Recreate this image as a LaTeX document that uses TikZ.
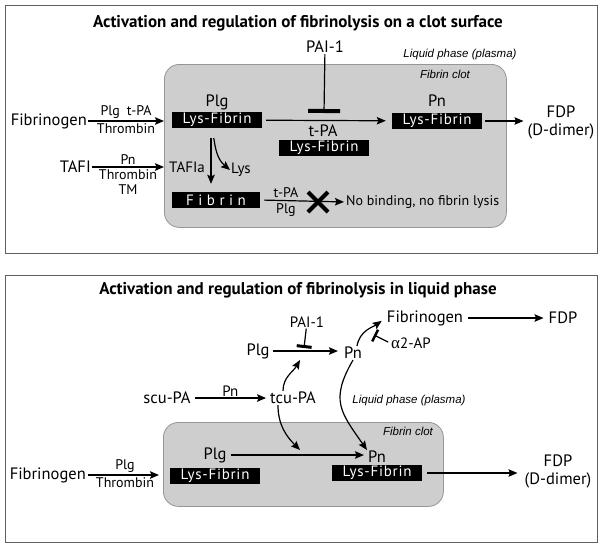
\documentclass[tikz,border=0pt]{standalone}
\usepackage{fontspec}
\setmainfont{PT Sans}
\newfontfamily\notefont{Liberation Sans}
\newfontfamily\lysfont[LetterSpace=5]{PT Sans}
\newfontfamily\fibfont[LetterSpace=30]{PT Sans}
\newfontfamily\grkfont{Liberation Serif}
\usepackage{xcolor}
\usetikzlibrary{arrows.meta, positioning, shapes.misc}

\definecolor{clotgray}{RGB}{206,206,206}
\definecolor{clotedge}{RGB}{150,150,150}
\definecolor{framegray}{RGB}{95,95,95}

\tikzset{
	lbl/.style={font=\fontsize{16.5}{18}\selectfont, inner sep=1pt},
	mid/.style={font=\fontsize{15}{16}\selectfont, inner sep=1pt},
	sml/.style={font=\fontsize{14}{15}\selectfont, inner sep=2pt},
	note/.style={font=\notefont\itshape\fontsize{11.5}{13}\selectfont, inner sep=0pt},
	heading/.style={font=\bfseries\fontsize{17}{19}\selectfont},
	lysbox/.style={fill=black, text=white, font=\lysfont\fontsize{15}{15}\selectfont, minimum width=90pt, minimum height=16pt, inner sep=0pt},
	fibbox/.style={lysbox, font=\fibfont\fontsize{15}{15}\selectfont, minimum width=88pt, minimum height=16pt},
	clot/.style={draw=clotedge, fill=clotgray, rounded corners=15pt, line width=0.8pt, anchor=north west},
	panel/.style={draw=framegray, line width=1pt, anchor=north west},
	act/.style={-{Stealth[length=9pt,width=7.5pt,inset=1.5pt]}, line width=1.2pt},
	inh/.style={-{Bar[width=32pt,line width=4pt]}, line width=1.2pt},
	inhsmall/.style={-{Bar[width=13pt,line width=2.5pt]}, line width=1.2pt}
}

\begin{document}
\begin{tikzpicture}[x=1pt, y=1pt]
	\useasboundingbox (0,0) rectangle (604,-547);
	\node[panel, minimum width=592pt, minimum height=248pt] (frame1) at (5,-5) {};
	\node[panel, minimum width=592pt, minimum height=267pt] (frame2) at (5,-275) {};

	\node[heading] (title1) at (298,-23) {Activation and regulation of fibrinolysis on a clot surface};
	\node[clot, minimum width=342pt, minimum height=163pt] (clot1) at (164,-64) {};
	\node[lbl] (pai1) at (325,-47) {PAI-1};
	\node[note] (liq1) at (460,-55) {Liquid phase (plasma)};
	\node[note] (fc1) at (445,-74) {Fibrin clot};
	\node[lbl] (plg1) at (217,-102) {Plg};
	\node[lysbox] (lf1) at (217,-120) {Lys-Fibrin};
	\node[lbl] (pn1) at (437,-101) {Pn};
	\node[lysbox] (lf2) at (437,-121) {Lys-Fibrin};
	\node[lbl] (tpa1) at (323,-131) {t-PA};
	\node[lysbox] (lf3) at (324,-148) {Lys-Fibrin};
	\node[lbl, align=center] (fdp1) at (561,-122) {FDP\\(D-dimer)};
	\node[lbl, anchor=east] (fgn1) at (88,-121) {Fibrinogen};
	\node[lbl, anchor=east] (tafi) at (92,-167) {TAFI};
	\node[mid] (tafia) at (187,-167) {TAFIa};
	\node[mid] (lys) at (241,-170) {Lys};
	\node[fibbox] (fib) at (216,-200) {Fibrin};
	\node[sml, anchor=west, inner sep=0pt] (nobind) at (346,-202) {No binding, no fibrin lysis};
	\node[draw, cross out, line width=4pt, minimum size=16pt, inner sep=0pt] (stop) at (318,-202) {};
	\coordinate (blk1) at (324,-113);

	\draw[act] (fgn1.east) -- (fgn1.east -| clot1.west)
		node[midway, above, sml] {Plg\enspace t-PA}
		node[midway, below, sml] {Thrombin};
	\draw[act] (tafi.east) -- (tafi.east -| clot1.west)
		node[midway, above, sml] {Pn}
		node[midway, below, sml, align=center] {Thrombin\\TM};
	\draw[act, shorten <=4pt, shorten >=6pt] (lf1) -- (lf2);
	\draw[inh] (pai1) -- (blk1);
	\draw[act, shorten <=3pt, shorten >=3pt] (lf2.east) -- (lf2.east -| fdp1.west);
	\draw[act, shorten <=10pt, shorten >=8pt] ([xshift=-6pt]lf1.south) -- ([xshift=-6pt]lf1.south |- fib.north);
	\draw[act, shorten <=10pt] ([xshift=-5pt]lf1.south) to[out=-80, in=140] (lys.west);
	\draw[act, shorten <=4pt, shorten >=2pt] (fib.east) -- (nobind.west)
		node[pos=0.3, above, sml] {t-PA}
		node[pos=0.3, below, sml] {Plg};

	\node[heading] (title2) at (298,-290) {Activation and regulation of fibrinolysis in liquid phase};
	\node[mid] (pai2) at (307,-322) {PAI-1};
	\node[lbl] (plg2) at (258,-351) {Plg};
	\node[lbl] (pn2) at (353,-353) {Pn};
	\node[lbl] (fgn2) at (425,-318) {Fibrinogen};
	\node[lbl] (fdp2) at (563,-318) {FDP};
	\node[mid, anchor=west] (a2ap) at (390,-343) {{\grkfont\fontsize{17}{17}\selectfont α}2-AP};
	\node[lbl] (scupa) at (167,-398) {scu-PA};
	\node[lbl] (tcupa) at (293,-398) {tcu-PA};
	\node[note] (liq2) at (409,-401) {Liquid phase (plasma)};
	\node[clot, minimum width=280pt, minimum height=84pt] (clot2) at (163,-422) {};
	\node[note] (fc2) at (408,-431) {Fibrin clot};
	\node[lbl] (plg3) at (215,-455) {Plg};
	\node[lysbox] (lf4) at (215,-476) {Lys-Fibrin};
	\node[lbl] (pn3) at (377,-457) {Pn};
	\node[lysbox] (lf5) at (377,-473) {Lys-Fibrin};
	\node[lbl, anchor=east] (fgn3) at (87,-475) {Fibrinogen};
	\node[lbl, align=center] (fdp3) at (558,-471) {FDP\\(D-dimer)};
	\coordinate (blk2) at (304,-348);
	\coordinate (blk3) at (374,-335);
	\coordinate (hit1) at (300,-360);
	\coordinate (hit2) at (300,-450);

	\draw[act, shorten <=2pt, shorten >=5pt] (plg2.east) -- (plg2.east -| pn2.west);
	\draw[-{Bar[width=15pt,line width=3pt]}, line width=1.2pt] (pai2) -- (blk2);
	\draw[act, shorten <=4pt, shorten >=4pt] (fgn2.east) -- (fdp2.west);
	\draw[act, shorten >=5pt] ([xshift=4pt]pn2.north) to[out=80, in=215] (fgn2.west);
	\draw[inhsmall, shorten <=2pt] (a2ap.west) -- (blk3);
	\draw[act, shorten <=3pt, shorten >=3pt] (scupa) -- (tcupa)
		node[midway, above, mid] {Pn};
	\draw[act] ([xshift=-10pt]tcupa.north) to[out=90, in=-120] (hit1);
	\draw[act] ([xshift=-15pt]tcupa.south) to[out=-90, in=135] (hit2);
	\draw[act] (pn2.south) to[out=-120, in=125, looseness=1.3] (pn3.north west);
	\draw[act, shorten <=3pt, shorten >=3pt] (plg3.east) -- (plg3.east -| pn3.west);
	\draw[act, shorten <=1pt, shorten >=4pt] (fgn3.east) -- (fgn3.east -| clot2.west)
		node[midway, above, sml] {Plg}
		node[midway, below, sml] {Thrombin};
	\draw[act, shorten <=5pt, shorten >=6pt] (lf5.east) -- (lf5.east -| fdp3.west);
\end{tikzpicture}
\end{document}
